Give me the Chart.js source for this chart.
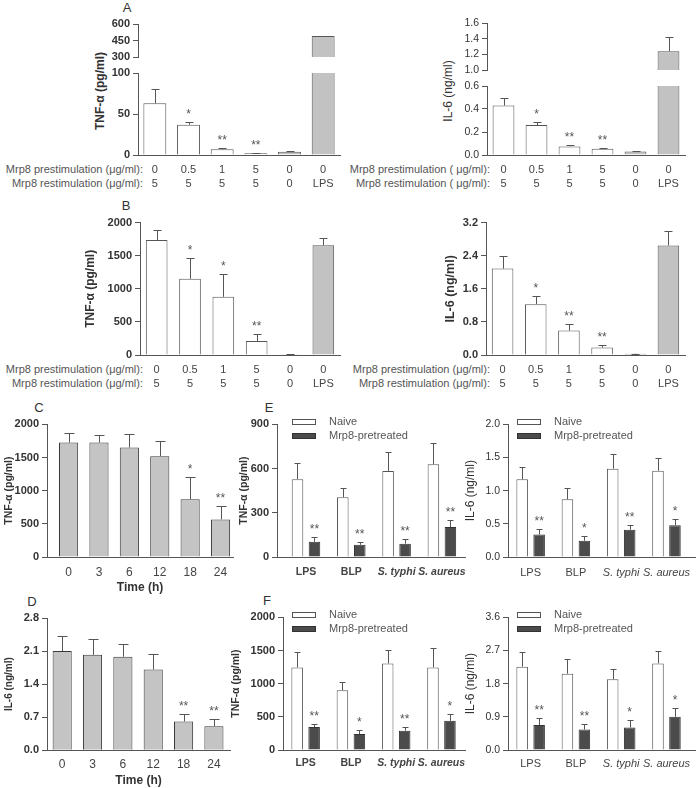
<!DOCTYPE html>
<html>
<head>
<meta charset="UTF-8">
<title>Mrp8 cytokine panels</title>
<script src="https://cdn.jsdelivr.net/npm/chart.js"></script>
<style>
  body {margin:0; background:#fff;}
  #fig {position:relative; width:700px; height:788px; overflow:hidden; font-family:"Liberation Sans", Arial, sans-serif;}
  .row {position:absolute; white-space:nowrap; font-size:11px; line-height:13px; color:#555; text-align:right;}
  .letter {position:absolute; font-size:13px; color:#333; transform:translate(-50%,-50%);}
  .ytitle {position:absolute; font-size:12px; color:#333; white-space:nowrap; transform:translate(-50%,-50%) rotate(-90deg);}
</style>
</head>
<body>
<div id="fig">
  <div class="letter" style="left:127px;top:7px">A</div>
  <div class="letter" style="left:126px;top:205px">B</div>
  <div class="letter" style="left:39px;top:407px">C</div>
  <div class="letter" style="left:32px;top:601px">D</div>
  <div class="letter" style="left:269px;top:407px">E</div>
  <div class="letter" style="left:267px;top:600px">F</div>

  <div class="ytitle" style="left:100px;top:91px;font-weight:bold">TNF-α (pg/ml)</div>
  <div class="ytitle" style="left:448px;top:91px">IL-6 (ng/ml)</div>

  <div class="row" style="right:557px;top:163px">Mrp8 prestimulation (μg/ml):</div>
  <div class="row" style="right:557px;top:177px">Mrp8 restimulation (μg/ml):</div>
  <div class="row" style="right:210px;top:163px">Mrp8 prestimulation ( μg/ml):</div>
  <div class="row" style="right:210px;top:177px">Mrp8 restimulation ( μg/ml):</div>
  <div class="row" style="right:557px;top:363px">Mrp8 prestimulation (μg/ml):</div>
  <div class="row" style="right:557px;top:377px">Mrp8 restimulation (μg/ml):</div>
  <div class="row" style="right:210px;top:363px">Mrp8 prestimulation (μg/ml):</div>
  <div class="row" style="right:210px;top:377px">Mrp8 restimulation (μg/ml):</div>
</div>
<script>
// ---- categories ----
const preDose = ['0', '0.5', '1', '5', '0', '0'];
const reDose = ['5', '5', '5', '5', '0', 'LPS'];
const hours = ['0', '3', '6', '12', '18', '24'];
const stimuli = ['LPS', 'BLP', 'S. typhi', 'S. aureus'];
const groups = ['Naive', 'Mrp8-pretreated'];

// ---- A: prestimulation, restimulation ----
const aTnfMean = [63, 37, 7, 2, 4, 490];
const aTnfSem = [17, 3, 1.5, 0.5, 1, 0];
const aTnfStars = ['', '*', '**', '**', '', ''];
const aIl6Mean = [0.43, 0.26, 0.075, 0.055, 0.03, 1.24];
const aIl6Sem = [0.07, 0.03, 0.008, 0.006, 0.005, 0.185];
const aIl6Stars = ['', '*', '**', '**', '', ''];

// ---- B ----
const bTnfMean = [1738, 1152, 879, 212, 10, 1658];
const bTnfSem = [151, 309, 339, 112, 3, 115];
const bTnfStars = ['', '*', '*', '**', '', ''];
const bIl6Mean = [2.09, 1.23, 0.59, 0.18, 0.03, 2.65];
const bIl6Sem = [0.31, 0.2, 0.17, 0.06, 0.005, 0.35];
const bIl6Stars = ['', '*', '**', '**', '', ''];

// ---- C / D: time course ----
const cTnfMean = [1725, 1725, 1650, 1520, 872, 567];
const cTnfSem = [145, 110, 210, 230, 335, 200];
const cTnfStars = ['', '', '', '', '*', '**'];
const dIl6Mean = [2.1, 2.02, 1.98, 1.71, 0.61, 0.51];
const dIl6Sem = [0.31, 0.34, 0.28, 0.32, 0.16, 0.15];
const dIl6Stars = ['', '', '', '', '**', '**'];

// ---- E ----
const eTnfNaive = [528, 406, 584, 629];
const eTnfNaiveSem = [108, 65, 126, 146];
const eTnfMrp8 = [103, 83, 90, 203];
const eTnfMrp8Sem = [30, 22, 32, 49];
const eTnfStars = ['**', '**', '**', '**'];
const eIl6Naive = [1.17, 0.87, 1.33, 1.3];
const eIl6NaiveSem = [0.18, 0.17, 0.22, 0.19];
const eIl6Mrp8 = [0.34, 0.245, 0.41, 0.48];
const eIl6Mrp8Sem = [0.08, 0.065, 0.07, 0.09];
const eIl6Stars = ['**', '*', '**', '*'];

// ---- F ----
const fTnfNaive = [1245, 900, 1305, 1245];
const fTnfNaiveSem = [230, 125, 205, 290];
const fTnfMrp8 = [345, 240, 290, 440];
const fTnfMrp8Sem = [45, 65, 55, 100];
const fTnfStars = ['**', '*', '**', '*'];
const fIl6Naive = [2.26, 2.07, 1.92, 2.35];
const fIl6NaiveSem = [0.39, 0.4, 0.28, 0.34];
const fIl6Mrp8 = [0.675, 0.556, 0.61, 0.9];
const fIl6Mrp8Sem = [0.2, 0.16, 0.21, 0.23];
const fIl6Stars = ['**', '**', '*', '*'];

// ---- tick values ----
const aTnfTicksHi = [300, 450, 600];
const aTnfTicksLo = [0, 50, 100];
const aIl6TicksHi = [1.0, 1.2, 1.4, 1.6];
const aIl6TicksLo = [0, 0.2, 0.4, 0.6];
const bTnfTicks = [0, 500, 1000, 1500, 2000];
const bIl6Ticks = [0, 0.8, 1.6, 2.4, 3.2];
const cTnfTicks = [0, 500, 1000, 1500, 2000];
const dIl6Ticks = [0, 0.7, 1.4, 2.1, 2.8];
const eTnfTicks = [0, 300, 600, 900];
const eIl6Ticks = [0, 0.5, 1.0, 1.5, 2.0];
const fTnfTicks = [0, 500, 1000, 1500, 2000];
const fIl6Ticks = [0, 0.9, 1.8, 2.7, 3.6];

const FONT = '"Liberation Sans", Arial, sans-serif';
const AXIS = '#555';
const WHITE = '#ffffff', GREY = '#c2c2c2', DARK = '#4b4b4b';
const doseColors = [WHITE, WHITE, WHITE, WHITE, GREY, GREY];
const doseLabels = preDose.map((p, i) => [p, reDose[i]]);
const fig = document.getElementById('fig');

function pts(arr) { return arr.map((v, i) => ({x: i, y: v})); }

// error bars (up only) + significance stars
const errBars = {
  id: 'errBars',
  afterDatasetsDraw(chart, args, o) {
    const ctx = chart.ctx, a = chart.chartArea, y = chart.scales.y;
    ctx.save();
    ctx.beginPath();
    ctx.rect(a.left, a.top - 1, a.right - a.left, a.bottom - a.top + 1);
    ctx.clip();
    ctx.strokeStyle = '#555';
    ctx.lineWidth = 1;
    chart.data.datasets.forEach((ds, di) => {
      if (!ds.sem) return;
      chart.getDatasetMeta(di).data.forEach((bar, i) => {
        if (!ds.sem[i]) return;
        const top = Math.round(y.getPixelForValue(ds.data[i].y + ds.sem[i])) + 0.5;
        const x = Math.round(bar.x) + 0.5;
        ctx.beginPath();
        ctx.moveTo(x, bar.y);
        ctx.lineTo(x, top);
        ctx.moveTo(x - o.cap, top);
        ctx.lineTo(x + o.cap, top);
        ctx.stroke();
      });
    });
    ctx.restore();
    ctx.save();
    ctx.font = '12px ' + FONT;
    ctx.fillStyle = '#555';
    ctx.textAlign = 'center';
    chart.data.datasets.forEach((ds, di) => {
      if (!ds.stars) return;
      chart.getDatasetMeta(di).data.forEach((bar, i) => {
        if (!ds.stars[i]) return;
        const top = y.getPixelForValue(ds.data[i].y + (ds.sem ? ds.sem[i] : 0));
        ctx.fillText(ds.stars[i], bar.x, top - 4);
      });
    });
    ctx.restore();
  }
};

// small legend drawn inside the plot area
const keyBox = {
  id: 'keyBox',
  afterDraw(chart, args, o) {
    if (!o.show) return;
    const ctx = chart.ctx;
    const x0 = Math.round(chart.scales.x.getPixelForValue(-0.5)) + 9;
    const y0 = chart.chartArea.top - 2;
    ctx.save();
    ctx.font = '11px ' + FONT;
    ctx.textBaseline = 'middle';
    chart.data.datasets.forEach((ds, i) => {
      const yy = Math.round(y0 + i * 13.5);
      ctx.fillStyle = ds.backgroundColor;
      ctx.fillRect(x0, yy - 3, 24, 6);
      ctx.strokeStyle = ds.borderColor;
      ctx.lineWidth = 1;
      ctx.strokeRect(x0 + 0.5, yy - 2.5, 23, 5);
      ctx.fillStyle = '#555';
      ctx.fillText(ds.label, x0 + 37, yy);
    });
    ctx.restore();
  }
};

function makeChart(g) {
  const left = Math.round(g.titleX != null ? g.titleX - 7 : g.axisX - 42);
  const top = Math.floor(g.topY - 9);
  const padBottom = g.xH > 0 ? 0 : 8;
  const w = Math.round(g.axisEnd + 8 - left);
  const h = Math.round(g.zeroY + g.xH + padBottom - top);
  const cv = document.createElement('canvas');
  cv.width = w; cv.height = h;
  cv.style.cssText = 'position:absolute;left:' + left + 'px;top:' + top + 'px;';
  fig.appendChild(cv);
  const yW = g.axisX - left;
  g.datasets.forEach(d => { d.clip = 0; d.borderWidth = 1; });
  return new Chart(cv, {
    type: 'bar',
    data: {datasets: g.datasets},
    options: {
      responsive: false, animation: false, devicePixelRatio: 1,
      layout: {padding: {top: g.topY - top, right: left + w - g.axisEnd, left: 0, bottom: padBottom}},
      datasets: {bar: {categoryPercentage: g.catPct, barPercentage: g.barPct}},
      plugins: {
        legend: {display: false}, tooltip: {enabled: false},
        errBars: {cap: g.cap}, keyBox: {show: !!g.key}
      },
      scales: {
        x: {
          type: 'linear', min: g.xMin, max: g.xMax, offset: false, display: g.xH > 0,
          grid: {display: false, drawTicks: false},
          border: {color: AXIS, width: 1},
          afterBuildTicks: s => { s.ticks = g.labels.map((_, i) => ({value: i})); },
          afterFit: s => { s.height = g.xH; s.paddingLeft = 0; s.paddingRight = 0; },
          ticks: {
            autoSkip: false, maxRotation: 0, minRotation: 0, padding: g.xPad, color: '#444',
            font: c => ({family: FONT, size: g.xSize || 11, lineHeight: 1.3,
                         weight: g.boldX ? 'bold' : 'normal',
                         style: g.italicFrom != null && c.index >= g.italicFrom ? 'italic' : 'normal'}),
            callback: v => g.labels[v]
          },
          title: g.xTitle ? {display: true, text: g.xTitle, padding: 0, color: '#333',
                             font: {family: FONT, size: 12, weight: 'bold'}} : {display: false}
        },
        y: {
          min: g.ticks[0], max: g.ticks[g.ticks.length - 1],
          afterBuildTicks: s => { s.ticks = g.ticks.map(v => ({value: v})); },
          afterFit: s => { s.width = yW; s.paddingTop = 0; s.paddingBottom = 0; },
          grid: {drawOnChartArea: false, drawTicks: true, tickLength: 5, color: AXIS},
          border: {color: AXIS, width: 1},
          ticks: {autoSkip: false, padding: 3, color: '#333',
                  font: {family: FONT, size: g.boldY ? 11 : 10.5, weight: g.boldY ? 'bold' : 'normal'},
                  callback: v => g.dec ? v.toFixed(g.dec) : String(v)},
          title: g.yTitle ? {display: true, text: g.yTitle, padding: 0, color: '#333',
                             font: {family: FONT, size: g.ySize, weight: g.boldTitle ? 'bold' : 'normal'}} : {display: false}
        }
      }
    },
    plugins: [errBars, keyBox]
  });
}

function doseSet(mean, sem, stars) {
  return [{data: pts(mean), sem: sem, stars: stars, backgroundColor: doseColors, borderColor: '#555'}];
}
function pairSets(n, ns, m, ms, stars) {
  return [
    {label: groups[0], data: pts(n), sem: ns, backgroundColor: WHITE, borderColor: '#555'},
    {label: groups[1], data: pts(m), sem: ms, stars: stars, backgroundColor: DARK, borderColor: '#333'}
  ];
}
function timeSet(mean, sem, stars) {
  return [{data: pts(mean), sem: sem, stars: stars, backgroundColor: '#c4c4c4', borderColor: '#3a3a3a'}];
}

const doseBase = {labels: doseLabels, xMin: -0.5, xMax: 5.5, catPct: 1, barPct: 0.68, cap: 4};

// A left (broken axis)
makeChart(Object.assign({}, doseBase, {axisX: 138, axisEnd: 340, topY: 24, zeroY: 57, xH: 0,
  ticks: aTnfTicksHi, boldY: true, datasets: doseSet(aTnfMean, aTnfSem, null)}));
makeChart(Object.assign({}, doseBase, {axisX: 138, axisEnd: 340, topY: 73, zeroY: 155, xH: 38, xPad: 8,
  ticks: aTnfTicksLo, boldY: true, datasets: doseSet(aTnfMean, aTnfSem, aTnfStars)}));
// A right (broken axis)
makeChart(Object.assign({}, doseBase, {axisX: 487, axisEnd: 685, topY: 23, zeroY: 70, xH: 0,
  ticks: aIl6TicksHi, dec: 1, barPct: 0.66, datasets: doseSet(aIl6Mean, aIl6Sem, null)}));
makeChart(Object.assign({}, doseBase, {axisX: 487, axisEnd: 685, topY: 86, zeroY: 155, xH: 38, xPad: 8,
  ticks: aIl6TicksLo, dec: 1, barPct: 0.66, datasets: doseSet(aIl6Mean, aIl6Sem, aIl6Stars)}));
// B
makeChart(Object.assign({}, doseBase, {axisX: 140, axisEnd: 340, topY: 222.7, zeroY: 354.7, xH: 38, xPad: 8,
  titleX: 90, yTitle: 'TNF-α (pg/ml)', ySize: 12, boldTitle: true, ticks: bTnfTicks, boldY: true, barPct: 0.65,
  datasets: doseSet(bTnfMean, bTnfSem, bTnfStars)}));
makeChart(Object.assign({}, doseBase, {axisX: 486, axisEnd: 685, topY: 222.7, zeroY: 354.7, xH: 38, xPad: 8,
  titleX: 450, yTitle: 'IL-6 (ng/ml)', ySize: 12.5, boldTitle: true, ticks: bIl6Ticks, dec: 1, boldY: true, barPct: 0.65,
  datasets: doseSet(bIl6Mean, bIl6Sem, bIl6Stars)}));
// C
makeChart({axisX: 47, axisEnd: 233, topY: 424.3, zeroY: 557, xH: 38, xPad: 8, xSize: 12, xMin: -0.71, xMax: 5.41,
  labels: hours, xTitle: 'Time (h)', titleX: 10, yTitle: 'TNF-α (pg/ml)', ySize: 10.5, boldTitle: true,
  ticks: cTnfTicks, boldY: true, catPct: 1, barPct: 0.63, cap: 5, datasets: timeSet(cTnfMean, cTnfSem, cTnfStars)});
// D
makeChart({axisX: 47, axisEnd: 230, topY: 618, zeroY: 750.3, xH: 37.7, xPad: 7, xSize: 12, xMin: -0.5, xMax: 5.53,
  labels: hours, xTitle: 'Time (h)', titleX: 10, yTitle: 'IL-6 (ng/ml)', ySize: 10, boldTitle: true,
  ticks: dIl6Ticks, dec: 1, boldY: true, catPct: 1, barPct: 0.63, cap: 5, datasets: timeSet(dIl6Mean, dIl6Sem, dIl6Stars)});
// E
makeChart({axisX: 277, axisEnd: 465, topY: 424.3, zeroY: 557.3, xH: 30, xPad: 8.5, xSize: 10.5, xMin: -0.64, xMax: 3.51,
  labels: stimuli, boldX: true, italicFrom: 2, titleX: 245, yTitle: 'TNF-α (pg/ml)', ySize: 10.5, boldTitle: true,
  ticks: eTnfTicks, boldY: true, catPct: 0.75, barPct: 0.68, cap: 3, key: true,
  datasets: pairSets(eTnfNaive, eTnfNaiveSem, eTnfMrp8, eTnfMrp8Sem, eTnfStars)});
makeChart({axisX: 508, axisEnd: 695, topY: 424.3, zeroY: 557, xH: 30, xPad: 8.5, xMin: -0.5, xMax: 3.63,
  labels: stimuli, italicFrom: 2, titleX: 470, yTitle: 'IL-6 (ng/ml)', ySize: 12,
  ticks: eIl6Ticks, dec: 1, catPct: 0.75, barPct: 0.68, cap: 3, key: true,
  datasets: pairSets(eIl6Naive, eIl6NaiveSem, eIl6Mrp8, eIl6Mrp8Sem, eIl6Stars)});
// F
makeChart({axisX: 283, axisEnd: 465, topY: 617.3, zeroY: 750.3, xH: 30, xPad: 6.5, xSize: 10.5, xMin: -0.5, xMax: 3.52,
  labels: stimuli, boldX: true, italicFrom: 2, titleX: 237, yTitle: 'TNF-α (pg/ml)', ySize: 10.5, boldTitle: true,
  ticks: fTnfTicks, boldY: true, catPct: 0.75, barPct: 0.68, cap: 3, key: true,
  datasets: pairSets(fTnfNaive, fTnfNaiveSem, fTnfMrp8, fTnfMrp8Sem, fTnfStars)});
makeChart({axisX: 508, axisEnd: 695, topY: 617.3, zeroY: 750.3, xH: 30, xPad: 6.5, xMin: -0.5, xMax: 3.63,
  labels: stimuli, italicFrom: 2, titleX: 470, yTitle: 'IL-6 (ng/ml)', ySize: 12,
  ticks: fIl6Ticks, dec: 1, catPct: 0.75, barPct: 0.68, cap: 3, key: true,
  datasets: pairSets(fIl6Naive, fIl6NaiveSem, fIl6Mrp8, fIl6Mrp8Sem, fIl6Stars)});
</script>
</body>
</html>
